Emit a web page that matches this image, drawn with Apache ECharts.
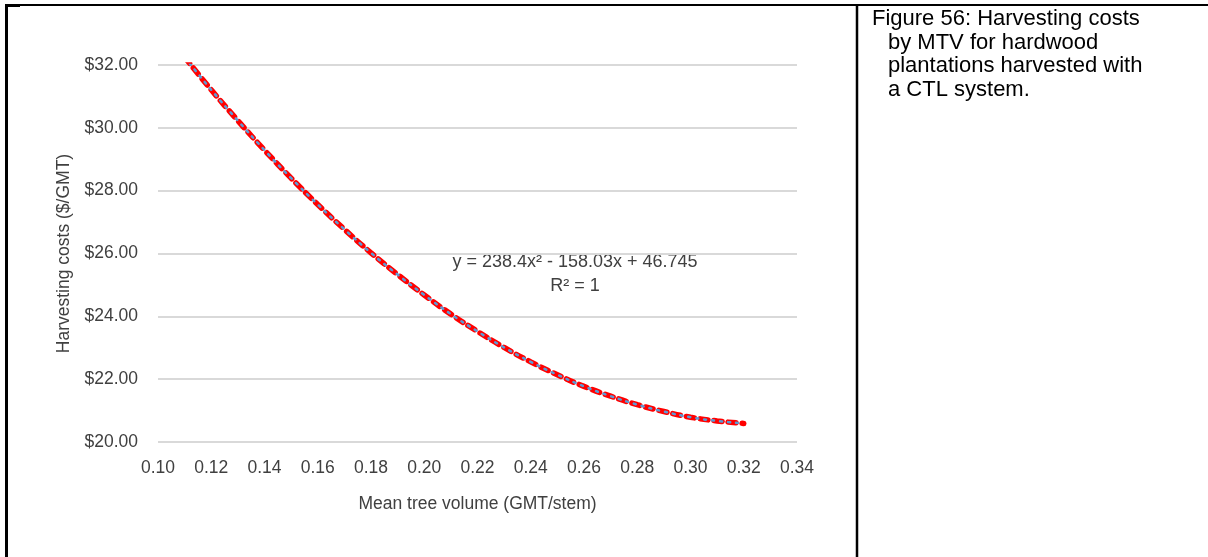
<!DOCTYPE html>
<html>
<head>
<meta charset="utf-8">
<script src="https://cdn.jsdelivr.net/npm/echarts@6/dist/echarts.min.js"></script>
<style>
html,body{margin:0;padding:0;background:#fff;}
#chart{width:1208px;height:557px;}
</style>
</head>
<body>
<div id="chart"></div>
<script>
// Mean tree volume (GMT/stem)
const mtv = [0.11,0.12,0.13,0.14,0.15,0.16,0.17,0.18,0.19,0.20,0.21,0.22,0.23,0.24,0.25,0.26,0.27,0.28,0.29,0.30,0.31,0.32];
// Harvesting costs ($/GMT)
const costs = [32.25,31.21,30.23,29.29,28.40,27.56,26.77,26.02,25.33,24.68,24.07,23.52,23.01,22.55,22.14,21.77,21.46,21.19,20.97,20.79,20.67,20.59];
const yTicks = {min:20, max:32, interval:2};
const xTicks = {min:0.10, max:0.34, interval:0.02};
const xTitle = 'Mean tree volume (GMT/stem)';
const yTitle = 'Harvesting costs ($/GMT)';
const equationLines = ['y = 238.4x\u00B2 - 158.03x + 46.745', 'R\u00B2 = 1'];
const captionLines = ['Figure 56: Harvesting costs', 'by MTV for hardwood', 'plantations harvested with', 'a CTL system.'];

const pts = mtv.map((x,i)=>[x,costs[i]]);
const font = "'Liberation Sans',Arial,sans-serif";
const txt = '#404040';

const chart = echarts.init(document.getElementById('chart'), null, {renderer:'canvas'});
const graphics = [
  {type:'line', shape:{x1:5,y1:5,x2:1208,y2:5}, style:{stroke:'#000',lineWidth:2}, silent:true},
  {type:'rect', shape:{x:5,y:4,width:15,height:3}, style:{fill:'#000'}, silent:true},
  {type:'line', shape:{x1:6.5,y1:4,x2:6.5,y2:557}, style:{stroke:'#000',lineWidth:3}, silent:true},
  {type:'line', shape:{x1:857,y1:4,x2:857,y2:557}, style:{stroke:'#000',lineWidth:2.5}, silent:true}
];
equationLines.forEach((t,i)=>{
  graphics.push({type:'text', x:575, y:262+i*24, style:{text:t, font:"18px "+font, fill:txt, textAlign:'center', textVerticalAlign:'middle'}, silent:true});
});
captionLines.forEach((t,i)=>{
  graphics.push({type:'text', x:i===0?872:888, y:19+i*23.5, style:{text:t, font:"22px "+font, fill:'#000', textAlign:'left', textVerticalAlign:'middle'}, silent:true});
});

chart.setOption({
  animation:false,
  backgroundColor:'#fff',
  grid:{left:158, right:411, top:65, bottom:115, containLabel:false},
  xAxis:{
    type:'value', min:xTicks.min, max:xTicks.max, interval:xTicks.interval,
    name:xTitle, nameLocation:'middle', nameGap:53,
    nameTextStyle:{fontFamily:font, fontSize:17.5, color:txt},
    axisLine:{show:false}, axisTick:{show:false}, splitLine:{show:false},
    axisLabel:{fontFamily:font, fontSize:17.5, color:txt, margin:17, formatter:v=>v.toFixed(2)}
  },
  yAxis:{
    type:'value', min:yTicks.min, max:yTicks.max, interval:yTicks.interval,
    name:yTitle, nameLocation:'middle', nameGap:84,
    nameTextStyle:{fontFamily:font, fontSize:17.5, color:txt},
    axisLine:{show:false}, axisTick:{show:false},
    splitLine:{show:true, lineStyle:{color:'#d9d9d9', width:2}},
    axisLabel:{fontFamily:font, fontSize:17.5, color:txt, margin:20, formatter:v=>'$'+v.toFixed(2)}
  },
  series:[
    {type:'line', data:pts, showSymbol:false, smooth:true, lineStyle:{color:'#ff0000', width:5.5, type:[8,6], cap:'round'}, z:2},
    {type:'line', data:pts, showSymbol:false, smooth:true, lineStyle:{color:'#5b9bd5', width:2.5, type:[2,6], cap:'round'}, z:3}
  ],
  graphic:graphics
});
</script>
</body>
</html>
